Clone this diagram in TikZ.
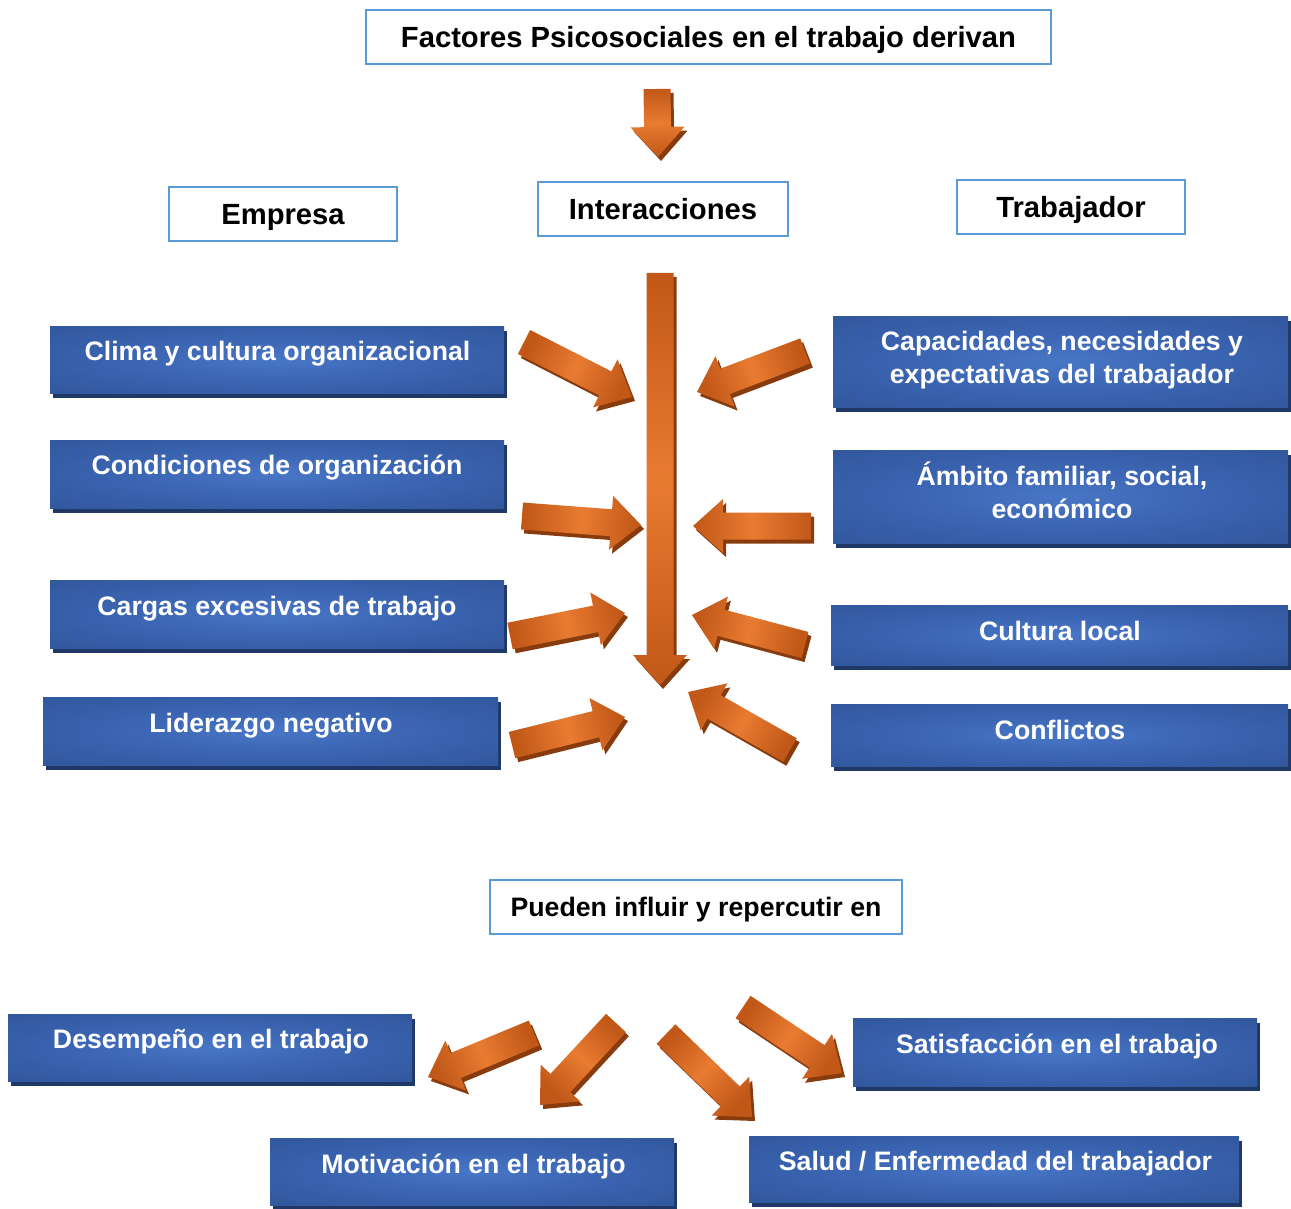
\documentclass[tikz,border=0pt]{standalone}
\usepackage{fontspec}
\setmainfont{Liberation Sans}
\usetikzlibrary{calc,shadows}

\definecolor{hdrline}{RGB}{91,155,213}
\definecolor{boxlight}{RGB}{72,118,198}
\definecolor{boxmid}{RGB}{58,99,176}
\definecolor{boxdark}{RGB}{46,83,150}
\definecolor{boxshadow}{RGB}{31,56,102}
\definecolor{arrlight}{RGB}{233,123,49}
\definecolor{arrdark}{RGB}{193,88,24}
\definecolor{arrshadow}{RGB}{136,60,14}

% soft glow used inside the blue boxes
\pgfdeclareradialshading{boxglow}{\pgfpoint{0bp}{0bp}}{color(0bp)=(boxlight); color(18bp)=(boxmid); color(42bp)=(boxdark); color(50bp)=(boxdark)}

% block arrow from a tail point to a tip point, with a hard shadow
\newcommand\orangearrow[5]{% name, tail x, tail y, tip x, tip y
  \coordinate (#1-tail) at (#2,#3);
  \coordinate (#1-tip) at (#4,#5);
  \coordinate (#1-hb) at ($(#1-tip)!30pt!(#1-tail)$);
  \pgfmathsetmacro\arrowshadeangle{atan2(-(#5-#3),#4-#2)+90}
  \fill[arrshadow, transform canvas={shift={(3pt,-4pt)}}]
    ($(#1-tail)!13.5pt!90:(#1-tip)$) -- ($(#1-hb)!13.5pt!90:(#1-tip)$) --
    ($(#1-hb)!27pt!90:(#1-tip)$) -- (#1-tip) -- ($(#1-hb)!27pt!-90:(#1-tip)$) --
    ($(#1-hb)!13.5pt!-90:(#1-tip)$) -- ($(#1-tail)!13.5pt!-90:(#1-tip)$) -- cycle;
  \shade[left color=arrdark, right color=arrdark, middle color=arrlight, shading angle=\arrowshadeangle]
    ($(#1-tail)!13.5pt!90:(#1-tip)$) -- ($(#1-hb)!13.5pt!90:(#1-tip)$) --
    ($(#1-hb)!27pt!90:(#1-tip)$) -- (#1-tip) -- ($(#1-hb)!27pt!-90:(#1-tip)$) --
    ($(#1-hb)!13.5pt!-90:(#1-tip)$) -- ($(#1-tail)!13.5pt!-90:(#1-tip)$) -- cycle;
}

\tikzset{
  hdrbox/.style={draw=hdrline, line width=2.5pt, fill=white, inner sep=0pt,
    text=black, text height=21pt, text depth=0pt,
    font=\fontsize{29.2}{34}\selectfont\bfseries},
  bluebox/.style={rectangle, inner sep=0pt, shade, shading=boxglow,
    drop shadow={shadow xshift=3pt, shadow yshift=-5pt, opacity=1, fill=boxshadow}},
  bluetext/.style={text=white, inner sep=0pt, anchor=base, align=center,
    font=\fontsize{26.7}{33}\selectfont\bfseries},
}

\begin{document}
\begin{tikzpicture}[x=1pt, y=-1pt]
\useasboundingbox (0,0) rectangle (1291,1209);

% ---------- headings ----------
\node[hdrbox, minimum width=685pt, minimum height=54pt] (fact) at (708.5,37) {Factores Psicosociales en el trabajo derivan};
\node[hdrbox, minimum width=228pt, minimum height=54pt] (emp) at (283,214) {Empresa};
\node[hdrbox, minimum width=250pt, minimum height=54pt] (inter) at (663,209) {Interacciones};
\node[hdrbox, minimum width=228pt, minimum height=54pt] (trab) at (1071,207) {Trabajador};
\node[hdrbox, minimum width=412pt, minimum height=54pt, text height=19pt,
      font=\fontsize{26.7}{32}\selectfont\bfseries] (pue) at (696,907) {Pueden influir y repercutir en};

% ---------- company side ----------
\node[bluebox, minimum width=454pt, minimum height=67pt] (clima) at (277,359.5) {};
\node[bluetext] (clima-t) at (277.5,360.5) {Clima y cultura organizacional};
\node[bluebox, minimum width=454pt, minimum height=68pt] (cond) at (277,474) {};
\node[bluetext] (cond-t) at (277,474.5) {Condiciones de organización};
\node[bluebox, minimum width=454pt, minimum height=68pt] (carg) at (277,614) {};
\node[bluetext] (carg-t) at (277,615.5) {Cargas excesivas de trabajo};
\node[bluebox, minimum width=455pt, minimum height=68pt] (lid) at (270.5,731) {};
\node[bluetext] (lid-t) at (271,732.5) {Liderazgo negativo};

% ---------- worker side ----------
\node[bluebox, minimum width=455pt, minimum height=91pt] (cap) at (1060.5,361.5) {};
\node[bluetext] (cap-t) at (1062,383.5) {Capacidades, necesidades y\\expectativas del trabajador};
\node[bluebox, minimum width=455pt, minimum height=93pt] (amb) at (1060.5,496.5) {};
\node[bluetext] (amb-t) at (1062,518.5) {Ámbito familiar, social,\\económico};
\node[bluebox, minimum width=457pt, minimum height=60pt] (cult) at (1059.5,635) {};
\node[bluetext] (cult-t) at (1060,640.5) {Cultura local};
\node[bluebox, minimum width=457pt, minimum height=62pt] (conf) at (1059.5,735) {};
\node[bluetext] (conf-t) at (1060,739.5) {Conflictos};

% ---------- effects ----------
\node[bluebox, minimum width=404pt, minimum height=67pt] (des) at (210,1047.5) {};
\node[bluetext] (des-t) at (211,1048.5) {Desempeño en el trabajo};
\node[bluebox, minimum width=404pt, minimum height=68pt] (sat) at (1055,1052) {};
\node[bluetext] (sat-t) at (1057,1053.5) {Satisfacción en el trabajo};
\node[bluebox, minimum width=404pt, minimum height=67pt] (mot) at (472,1171.5) {};
\node[bluetext] (mot-t) at (473.5,1173.5) {Motivación en el trabajo};
\node[bluebox, minimum width=490pt, minimum height=66pt] (sal) at (994,1169) {};
\node[bluetext] (sal-t) at (995.5,1170.5) {Salud / Enfermedad del trabajador};

% ---------- arrows ----------
\orangearrow{top}{657}{89}{658}{157}
\orangearrow{main}{660}{273}{660}{685}
\orangearrow{a1}{524}{342}{632}{397}
\orangearrow{a2}{805}{351}{697}{392}
\orangearrow{a3}{522}{516}{641}{525}
\orangearrow{a4}{811}{526}{693}{526}
\orangearrow{a5}{510}{636}{625}{613}
\orangearrow{a6}{805}{645}{692}{615}
\orangearrow{a7}{512}{745}{625}{717}
\orangearrow{a8}{790}{750}{688}{692}
\orangearrow{b1}{534}{1033}{428}{1077}
\orangearrow{b2}{616}{1023}{540}{1105}
\orangearrow{b3}{666}{1034}{752}{1117}
\orangearrow{b4}{743}{1007}{842}{1073}
\end{tikzpicture}
\end{document}
